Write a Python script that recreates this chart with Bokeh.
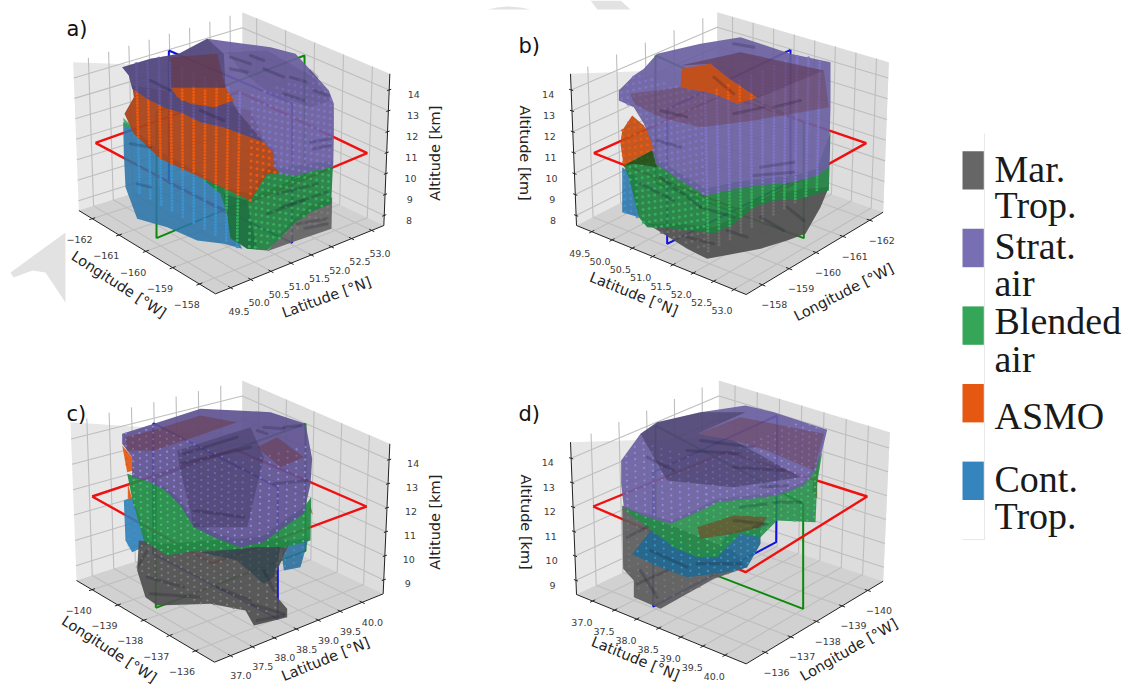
"""
Four 3D views of air mass regions along two flight tracks, drawn on one Bokeh figure.

The 3D boxes are projected by hand: every panel has its 8 box corners in "view units"
(3 units = 1 page pixel from the panel origin) and the outlines are read off in those units.
"""
import numpy as np
from bokeh.core.properties import value
from bokeh.embed import file_html
from bokeh.models import Range1d
from bokeh.plotting import figure
from bokeh.resources import INLINE

GRAY = "#636363"
STRAT = "#6a5f9f"
GREEN = "#31a354"
ORANGE = "#e6550d"
BLUE = "#3182bd"

LEGEND_LABELS = [["Mar.", "Trop."], ["Strat.", "air"], ["Blended", "air"], ["ASMO"], ["Cont.", "Trop."]]
LEGEND_COLORS = [GRAY, "#756bb1", GREEN, ORANGE, BLUE]

# ticks of the two regions
LON_TICKS_AB = [-162, -161, -160, -159, -158]
LAT_TICKS_AB = [49.5, 50.0, 50.5, 51.0, 51.5, 52.0, 52.5, 53.0]
ALT_TICKS_AB = [8, 9, 10, 11, 12, 13, 14]
LON_TICKS_CD = [-140, -139, -138, -137, -136]
LAT_TICKS_CD = [37.0, 37.5, 38.0, 38.5, 39.0, 39.5, 40.0]
ALT_TICKS_CD = [9, 10, 11, 12, 13, 14]

# box limits (lon, lat, alt)
LIMS_AB = ((-162.5, -157.4), (49.125, 53.3), (7.52, 14.77))
LIMS_CD = ((-140.6, -135.26), (36.635, 40.48), (8.42, 14.66))

# model grid the points sit on
LON_GRID_AB = [-162.4, -162.0, -161.6, -161.2, -160.8, -160.4, -160.0, -159.6, -159.2, -158.8, -158.4, -158.0, -157.6]
LAT_GRID_AB = [49.2, 49.35, 49.5, 49.65, 49.8, 49.95, 50.1, 50.25, 50.4, 50.55, 50.7, 50.85, 51.0, 51.15, 51.3,
               51.45, 51.6, 51.75, 51.9, 52.05, 52.2, 52.35, 52.5, 52.65, 52.8, 52.95, 53.1, 53.25]
ALT_GRID_AB = [7.6, 7.75, 7.9, 8.05, 8.2, 8.35, 8.5, 8.65, 8.8, 8.95, 9.1, 9.25, 9.4, 9.55, 9.7, 9.85, 10.0, 10.15,
               10.3, 10.45, 10.6, 10.75, 10.9, 11.05, 11.2, 11.35, 11.5, 11.65, 11.8, 11.95, 12.1, 12.25, 12.4,
               12.55, 12.7, 12.85, 13.0, 13.15, 13.3, 13.45, 13.6, 13.75, 13.9, 14.05, 14.2, 14.35, 14.5, 14.65]
LON_GRID_CD = [-140.5, -140.25, -140.0, -139.75, -139.5, -139.25, -139.0, -138.75, -138.5, -138.25, -138.0, -137.75,
               -137.5, -137.25, -137.0, -136.75, -136.5, -136.25, -136.0, -135.75, -135.5]
LAT_GRID_CD = [36.7, 36.9, 37.1, 37.3, 37.5, 37.7, 37.9, 38.1, 38.3, 38.5, 38.7, 38.9, 39.1, 39.3, 39.5, 39.7,
               39.9, 40.1, 40.3]
ALT_GRID_CD = [8.5, 8.75, 9.0, 9.25, 9.5, 9.75, 10.0, 10.25, 10.5, 10.75, 11.0, 11.25, 11.5, 11.75, 12.0, 12.25,
               12.5, 12.75, 13.0, 13.25, 13.5, 13.75, 14.0, 14.25, 14.5]

# panel a outlines
A_GRAY = [(845, 560), (843, 655), (740, 690), (650, 722), (730, 625), (780, 585)]
A_BLUE = [(218, 335), (240, 345), (290, 390), (340, 430), (450, 490), (520, 535), (530, 620), (575, 715), (520, 700),
          (440, 690), (350, 650), (260, 625), (225, 530), (220, 430)]
A_GREEN_SMALL = [(218, 322), (250, 352), (222, 350)]
A_GREEN = [(455, 505), (520, 530), (600, 550), (650, 470), (700, 470), (848, 450), (842, 580), (780, 605), (730, 640),
           (650, 720), (590, 715), (540, 680), (530, 610), (510, 550)]
A_GREEN_DARK = [(520, 550), (590, 570), (600, 620), (620, 715), (590, 715), (540, 685), (530, 610)]
A_ORANGE = [(245, 225), (250, 260), (222, 310), (250, 370), (330, 445), (470, 510), (600, 570), (650, 490), (685, 490),
            (672, 420), (640, 385), (600, 300), (400, 250)]
A_ORANGE_HOLE = [(362, 232), (525, 232), (550, 270), (490, 290), (420, 280), (380, 260)]
A_STRAT = [(215, 170), (300, 145), (385, 130), (470, 85), (580, 100), (660, 110), (735, 130), (790, 190), (835, 240),
           (850, 280), (850, 380), (848, 470), (800, 478), (740, 495), (690, 490), (672, 470), (670, 430), (640, 395),
           (600, 380), (520, 350), (450, 335), (400, 310), (340, 290), (290, 265), (245, 235), (235, 195)]
A_STRAT_TOP = [(215, 170), (300, 145), (385, 130), (470, 85), (520, 130), (525, 232), (560, 300), (640, 395), (600, 380),
               (520, 350), (450, 335), (400, 310), (340, 290), (290, 265), (245, 235), (235, 195)]
A_BROWN = [(360, 140), (500, 130), (525, 232), (362, 232)]
A_SHADE = [(530, 125), (650, 120), (790, 200), (840, 270), (780, 290), (660, 250), (570, 180)]
A_STREAKS = [(540, 140, 600, 160), (600, 135, 640, 150), (540, 175, 590, 185), (640, 175, 700, 200), (720, 200, 770, 215),
             (700, 250, 760, 270), (790, 240, 835, 255), (780, 180, 800, 200), (780, 395, 840, 385), (790, 415, 840, 405),
             (680, 550, 800, 520), (650, 610, 760, 570), (690, 590, 830, 545), (240, 400, 300, 410), (260, 520, 300, 530),
             (300, 210, 360, 240), (450, 300, 520, 330), (740, 640, 830, 625), (760, 655, 830, 640)]

# panel b outlines
B_BLUE = [(365, 470), (410, 500), (415, 620), (365, 605)]
B_ORANGE = [(395, 315), (430, 345), (455, 390), (470, 425), (440, 450), (370, 470), (360, 400), (365, 360)]
B_GRAY = [(440, 640), (530, 640), (640, 650), (700, 620), (760, 570), (830, 550), (905, 535), (985, 530), (960, 590),
          (915, 670), (860, 690), (780, 715), (620, 745), (560, 715)]
B_GREEN = [(370, 465), (455, 420), (465, 440), (540, 490), (615, 535), (700, 515), (880, 495), (950, 475), (990, 365),
           (985, 540), (900, 565), (820, 570), (760, 590), (700, 640), (640, 668), (530, 655), (440, 650), (415, 620),
           (385, 500)]
B_GREEN_DARK = [(370, 465), (455, 420), (470, 470), (400, 460)]
B_STRAT = [(355, 240), (400, 195), (430, 175), (470, 130), (600, 100), (720, 80), (780, 100), (870, 130), (990, 155),
           (990, 290), (985, 470), (950, 495), (880, 515), (780, 525), (700, 535), (615, 555), (540, 510), (465, 460),
           (455, 400), (430, 340), (400, 290), (355, 270)]
B_BROWN = [(390, 250), (540, 230), (640, 250), (710, 280), (840, 235), (970, 180), (985, 290), (760, 330), (600, 350),
           (480, 320), (400, 280)]
B_ORANGE_HOLE = [(545, 175), (630, 160), (680, 200), (770, 262), (710, 280), (640, 250), (540, 230)]
B_BROWN_TOP = [(540, 165), (720, 125), (970, 180), (840, 235), (770, 262), (680, 200), (630, 160)]
B_STREAKS = [(700, 100, 760, 110), (480, 300, 560, 320), (700, 310, 790, 290), (820, 290, 900, 270), (470, 390, 540, 410),
             (760, 495, 880, 485), (780, 470, 880, 455), (420, 520, 520, 570), (480, 500, 600, 590), (600, 590, 700, 620),
             (560, 680, 640, 700), (680, 660, 740, 680), (780, 620, 850, 660), (860, 590, 910, 630), (640, 200, 700, 250)]

# panel c outlines
C_GRAY = [(265, 510), (350, 520), (620, 500), (720, 510), (680, 600), (680, 680), (710, 715), (710, 740),
          (610, 765), (585, 720), (480, 700), (320, 705), (285, 680), (260, 600)]
C_BLUE_LEFT = [(220, 390), (245, 380), (300, 520), (245, 545), (225, 510)]
C_BLUE_RIGHT = [(690, 520), (775, 500), (750, 590), (700, 600)]
C_ORANGE_1 = [(215, 225), (245, 260), (250, 300), (230, 305)]
C_ORANGE_2 = [(232, 340), (245, 385), (232, 385)]
C_ORANGE_3 = [(780, 405), (787, 432), (775, 420)]
C_GREEN = [(230, 310), (290, 330), (345, 350), (390, 390), (430, 450), (500, 490), (570, 510), (640, 495), (700, 450),
           (760, 410), (782, 380), (780, 510), (700, 530), (620, 530), (540, 540), (440, 540), (350, 555), (280, 510),
           (245, 385)]
C_SHADE = [(450, 545), (620, 530), (690, 530), (670, 620), (640, 640), (560, 570)]
C_STRAT = [(215, 190), (310, 160), (450, 115), (560, 120), (660, 125), (765, 160), (785, 265), (780, 340), (760, 430),
           (700, 470), (640, 515), (570, 530), (500, 505), (430, 470), (390, 405), (345, 360), (290, 330), (245, 320),
           (245, 260), (215, 220)]
C_BROWN_1 = [(225, 200), (305, 180), (450, 135), (560, 155), (430, 200), (310, 240), (230, 240)]
C_BROWN_2 = [(620, 230), (680, 200), (760, 260), (690, 290)]
C_STRAT_DARK = [(380, 240), (600, 170), (640, 260), (590, 470), (430, 470), (390, 300)]
C_STREAKS = [(400, 250, 560, 200), (390, 280, 600, 230), (640, 170, 700, 175), (700, 170, 750, 165), (620, 180, 650, 190),
             (670, 340, 770, 330), (290, 620, 400, 650), (300, 670, 450, 680), (500, 650, 600, 690), (600, 700, 700, 730),
             (620, 750, 700, 735), (640, 600, 670, 660), (430, 420, 580, 440), (290, 540, 260, 590)]

# panel d outlines
D_GRAY = [(365, 405), (450, 440), (700, 540), (740, 590), (640, 625), (480, 715), (400, 680), (400, 630), (368, 595)]
D_ORANGE = [(970, 195), (960, 240), (950, 330), (950, 385), (935, 360), (940, 320)]
D_BLUE = [(395, 552), (450, 480), (520, 510), (590, 540), (650, 540), (680, 490), (740, 470), (780, 470), (780, 520),
          (740, 590), (680, 605), (560, 620), (480, 590)]
D_GREEN = [(365, 415), (440, 430), (510, 450), (580, 420), (650, 385), (750, 375), (830, 365), (910, 335), (965, 245),
           (950, 340), (945, 455), (830, 450), (780, 500), (720, 490), (650, 560), (590, 560), (520, 530), (440, 470)]
D_BROWN_MID = [(590, 470), (700, 435), (800, 440), (780, 470), (700, 490), (600, 505)]
D_STRAT = [(362, 270), (420, 190), (470, 155), (600, 125), (735, 105), (820, 125), (980, 178), (965, 240), (945, 300),
           (910, 345), (830, 375), (750, 385), (650, 395), (580, 430), (510, 460), (440, 440), (370, 410), (362, 340)]
D_BROWN = [(590, 190), (720, 140), (970, 190), (940, 300), (800, 240), (700, 210)]
D_STRAT_DARK = [(420, 190), (470, 155), (600, 125), (735, 125), (590, 190), (700, 210), (900, 320), (700, 350), (500, 330)]
D_STREAKS = [(560, 240, 720, 250), (600, 210, 760, 230), (700, 290, 850, 300), (780, 350, 860, 345), (440, 260, 520, 300),
             (820, 395, 900, 395), (720, 410, 800, 400), (380, 500, 440, 470), (410, 640, 500, 600), (420, 600, 470, 680),
             (590, 580, 720, 580), (450, 540, 560, 590), (700, 450, 790, 460), (760, 470, 800, 460)]

# flight curtains and the level plane, 4 corners each
A_RED = [(135, 397), (566, 244), (950, 428), (525, 605)]
A_GREEN_RECT = [(318, 683), (318, 304), (762, 135), (762, 497)]
A_BLUE_RECT = [(355, 120), (725, 279), (725, 697), (355, 517)]
B_RED = [(280, 428), (670, 252), (1097, 398), (728, 603)]
B_GREEN_RECT = [(465, 135), (910, 335), (910, 683), (465, 517)]
B_BLUE_RECT = [(870, 118), (500, 297), (500, 700), (870, 515)]
C_RED = [(125, 378), (552, 236), (948, 408), (485, 579)]
C_GREEN_RECT = [(316, 712), (316, 322), (765, 160), (765, 541)]
C_BLUE_RECT = [(308, 158), (682, 351), (682, 745), (308, 550)]
D_RED = [(278, 408), (679, 244), (1100, 378), (735, 605)]
D_GREEN_RECT = [(465, 165), (908, 400), (908, 715), (465, 545)]
D_BLUE_RECT = [(830, 135), (458, 305), (458, 708), (827, 515)]

WATERMARK = [[(10, 272), (65, 232), (65, 302), (45, 272), (32, 270), (13, 277)],
             [(487, 9), (497, 7), (507, 6), (520, 7), (530, 9)],
             [(590, 0), (620, 0), (630, 9), (597, 9)]]

DARK = "#2c2440"
BROWN = "#6b2f30"
STRAT_DOT = "#8074c8"

PANELS = [
    dict(name="a)", name_xy=(66, 28), origin=(50, 10), swapped=False, lims=LIMS_AB, stagger=True,
         floor=[(85, 600), (495, 850), (1000, 645), (578, 445)], top=[(68, 155), (510, 345), (1018, 190), (575, 5)],
         ticks=(LON_TICKS_AB, LAT_TICKS_AB, ALT_TICKS_AB), grid=(LON_GRID_AB, LAT_GRID_AB, ALT_GRID_AB),
         face=(-158.5, 50.6), offs=((-38, 62), (25, 70), (74, 14)), dot=3.0, streaks=A_STREAKS,
         titles=[("Longitude [°W]", 205, 822, -33), ("Latitude [°N]", 828, 860, 20), ("Altitude [km]", 1153, 428, 90)],
         rects=(A_GREEN_RECT, A_BLUE_RECT, A_RED),
         layers=[(A_GRAY, GRAY, .92, "#7a7a7a"), (A_BLUE, "#2a74aa", .88, "#3a94d0"), (A_GREEN_SMALL, GREEN, .8, None),
                 (A_GREEN, "#1f7f40", .92, "#35b05c"), (A_GREEN_DARK, "#1c6b40", .7, "#35b05c"),
                 (A_ORANGE, "#a9451a", .95, "#f0590e"), (A_STRAT, STRAT, .93, STRAT_DOT),
                 (A_STRAT_TOP, "#352a50", .4, None), (A_BROWN, BROWN, .5, None),
                 (A_ORANGE_HOLE, "#c24c10", .95, "#f0590e"), (A_SHADE, DARK, .12, None)]),
    dict(name="b)", name_xy=(518, 45), origin=(500, 10), swapped=True, lims=LIMS_AB, stagger=True,
         floor=[(228, 645), (737, 852), (1148, 605), (650, 430)], top=[(210, 190), (725, 340), (1165, 155), (650, 5)],
         ticks=(LAT_TICKS_AB, LON_TICKS_AB, ALT_TICKS_AB), grid=(LON_GRID_AB, LAT_GRID_AB, ALT_GRID_AB),
         face=(-158.4, 51.7), offs=((-36, 64), (36, 60), (-69, 14)), dot=3.0, streaks=B_STREAKS,
         titles=[("Latitude [°N]", 400, 850, -22), ("Longitude [°W]", 1030, 845, 27), ("Altitude [km]", 73, 428, -90)],
         rects=(B_GREEN_RECT, B_BLUE_RECT, B_RED),
         layers=[(B_BLUE, "#2a74aa", .88, "#3a94d0"), (B_ORANGE, "#c04c12", .92, "#f0590e"),
                 (B_GRAY, "#505050", .93, "#6e6e6e"), (B_GREEN, "#1f7f40", .92, "#35b05c"),
                 (B_GREEN_DARK, "#2b4a18", .8, None), (B_STRAT, STRAT, .92, STRAT_DOT), (B_BROWN, BROWN, .32, None),
                 (B_BROWN_TOP, "#5a2c40", .5, None), (B_ORANGE_HOLE, "#c94e10", .92, "#f0590e")]),
    dict(name="c)", name_xy=(66, 413), origin=(50, 370), swapped=False, lims=LIMS_CD, stagger=False,
         floor=[(78, 630), (492, 875), (998, 670), (575, 470)], top=[(60, 155), (503, 345), (1018, 220), (575, 30)],
         ticks=(LON_TICKS_CD, LAT_TICKS_CD, ALT_TICKS_CD), grid=(LON_GRID_CD, LAT_GRID_CD, ALT_GRID_CD),
         face=(-136.4, 37.8), offs=((-40, 62), (31, 60), (72, 12)), dot=2.2, streaks=C_STREAKS,
         titles=[("Longitude [°W]", 176, 836, -33), ("Latitude [°N]", 825, 866, 22), ("Altitude [km]", 1153, 455, 90)],
         rects=(C_GREEN_RECT, C_BLUE_RECT, C_RED),
         layers=[(C_BLUE_LEFT, "#2f7fb8", .9, "#3a94d0"), (C_BLUE_RIGHT, "#2a6d9c", .88, "#3a94d0"),
                 (C_GRAY, "#505050", .93, "#808080"), (C_ORANGE_1, ORANGE, .9, ORANGE), (C_ORANGE_2, ORANGE, .9, ORANGE),
                 (C_ORANGE_3, ORANGE, .9, ORANGE), (C_GREEN, "#228a47", .92, "#45c56c"),
                 (C_SHADE, "#24404a", .6, None), (C_STRAT, "#5e5391", .92, "#9488e6"), (C_STRAT_DARK, DARK, .3, None),
                 (C_BROWN_1, BROWN, .4, None), (C_BROWN_2, BROWN, .4, None)]),
    dict(name="d)", name_xy=(518, 413), origin=(500, 370), swapped=True, lims=LIMS_CD, stagger=False,
         floor=[(228, 672), (737, 880), (1148, 632), (655, 470)], top=[(210, 215), (723, 370), (1168, 185), (655, 30)],
         ticks=(LAT_TICKS_CD, LON_TICKS_CD, ALT_TICKS_CD), grid=(LON_GRID_CD, LAT_GRID_CD, ALT_GRID_CD),
         face=(-136.5, 38.9), offs=((-32, 64), (34, 60), (-70, 14)), dot=2.2, streaks=D_STREAKS,
         titles=[("Latitude [°N]", 405, 864, -22), ("Longitude [°W]", 1045, 838, 30), ("Altitude [km]", 75, 455, -90)],
         rects=(D_GREEN_RECT, D_BLUE_RECT, D_RED),
         layers=[(D_GRAY, "#5c5c5c", .93, "#777777"), (D_ORANGE, "#b0480f", .9, ORANGE), (D_BLUE, "#24688f", .93, "#3a94d0"),
                 (D_GREEN, "#248c49", .88, "#3fc068"), (D_BROWN_MID, "#7a4020", .6, None),
                 (D_STRAT, STRAT, .92, "#9488e6"), (D_STRAT_DARK, DARK, .38, None), (D_BROWN, BROWN, .35, None)]),
]

WIDTH = 1127
HEIGHT = 686


def project(panel, u, v, w):
    """Trilinear map from box fractions (u, v, w) to view units."""
    u, v, w = np.asarray(u, float), np.asarray(v, float), np.asarray(w, float)
    pts = []
    for k in (0, 1):
        lo = np.array(panel["floor"])[:, k]
        hi = np.array(panel["top"])[:, k]
        base = (1 - v) * ((1 - u) * lo[0] + u * lo[1]) + v * ((1 - u) * lo[3] + u * lo[2])
        roof = (1 - v) * ((1 - u) * hi[0] + u * hi[1]) + v * ((1 - u) * hi[3] + u * hi[2])
        pts.append((1 - w) * base + w * roof)
    return pts[0], pts[1]


def to_page(panel, xs, ys):
    ox, oy = panel["origin"]
    return ox + np.asarray(xs, float) / 3, -(oy + np.asarray(ys, float) / 3)


def fractions(panel, lon, lat, alt):
    (lon0, lon1), (lat0, lat1), (alt0, alt1) = panel["lims"]
    w = (np.asarray(alt, float) - alt0) / (alt1 - alt0)
    if panel["swapped"]:
        return (np.asarray(lat, float) - lat0) / (lat1 - lat0), (lon1 - np.asarray(lon, float)) / (lon1 - lon0), w
    return (np.asarray(lon, float) - lon0) / (lon1 - lon0), (np.asarray(lat, float) - lat0) / (lat1 - lat0), w


def inside(poly, x, y):
    """Ray casting test of view points against an outline."""
    px, py = np.array(poly, float).T
    hit = np.zeros(x.shape, bool)
    for i in range(len(px)):
        j = i - 1
        cross = (py[i] > y) != (py[j] > y)
        at = (px[j] - px[i]) * (y - py[i]) / (py[j] - py[i] + 1e-9) + px[i]
        hit ^= cross & (x < at)
    return hit


def face_points(panel):
    """View positions of the grid points on the two faces turned to the viewer."""
    lons, lats, alts = panel["grid"]
    lon_f, lat_f = panel["face"]
    uf, vf, _ = fractions(panel, lon_f, lat_f, alts[0])
    all_x, all_y = [], []
    columns = [(lon, lat_f, False) for lon in lons] + [(lon_f, lat, panel["stagger"]) for lat in lats]
    for i, (lon, lat, staggered) in enumerate(columns):
        u, v, w = fractions(panel, np.full(len(alts), lon), np.full(len(alts), lat), alts)
        keep = (u <= uf + .001) & (v >= vf - .001)
        if staggered:
            # the dense faces show as a diamond lattice
            keep &= (np.arange(len(alts)) + i) % 2 == 0
        x, y = project(panel, u, v, w)
        all_x.append(x[keep])
        all_y.append(y[keep])
    return np.concatenate(all_x), np.concatenate(all_y)


def draw_box(p, panel):
    ticks = panel["ticks"]
    rows = [([0, 0, 1, 1], [0, 0, 1, 1], [0, 1, 1, 0], "#e7e7e7"),
            ([0, 1, 1, 0], [1, 1, 1, 1], [0, 0, 1, 1], "#dddddd"),
            ([0, 1, 1, 0], [0, 0, 1, 1], [0, 0, 0, 0], "#d1d1d1")]
    for u, v, w, color in rows:
        x, y = to_page(panel, *project(panel, u, v, w))
        p.patch(x, y, fill_color=color, line_color=None)

    # tick values as box fractions, first axis runs along u, second along v
    (lon0, _), (lat0, _), (alt0, _) = panel["lims"]
    first = np.array(ticks[0], float)
    second = np.array(ticks[1], float)
    if panel["swapped"]:
        u_vals = fractions(panel, lon0, first, alt0)[0]
        v_vals = fractions(panel, second, lat0, alt0)[1]
    else:
        u_vals = fractions(panel, first, lat0, alt0)[0]
        v_vals = fractions(panel, lon0, second, alt0)[1]
    w_vals = fractions(panel, lon0, lat0, np.array(ticks[2], float))[2]

    seg_x, seg_y = [], []

    def add(u, v, w):
        x, y = to_page(panel, *project(panel, u, v, w))
        seg_x.append(list(x))
        seg_y.append(list(y))

    for u in u_vals:
        add([u, u, u], [0, 1, 1], [0, 0, 1])
    for v in v_vals:
        add([1, 0, 0], [v, v, v], [0, 0, 1])
    for w in w_vals:
        add([0, 0, 1], [0, 1, 1], [w, w, w])
    p.multi_line(seg_x, seg_y, line_color="#bebebe", line_width=1.1)

    seg_x, seg_y = [], []
    add([0, 1, 1], [0, 0, 1], [0, 0, 0])
    if panel["swapped"]:
        add([0, 0], [0, 0], [0, 1])
    else:
        add([1, 1], [1, 1], [0, 1])
    for u in u_vals:
        add([u, u], [-.018, .018], [0, 0])
    for v in v_vals:
        add([.982, 1.018], [v, v], [0, 0])
    for w in w_vals:
        if panel["swapped"]:
            add([-.012, .012], [0, 0], [w, w])
        else:
            add([1, 1], [.988, 1.012], [w, w])
    p.multi_line(seg_x, seg_y, line_color="#222222", line_width=1)

    # tick labels
    for vals, tick_list, off, pos in ((u_vals, ticks[0], panel["offs"][0], "u"),
                                      (v_vals, ticks[1], panel["offs"][1], "v"),
                                      (w_vals, ticks[2], panel["offs"][2], "w")):
        if pos == "u":
            x, y = project(panel, vals, 0 * vals, 0 * vals)
        elif pos == "v":
            x, y = project(panel, 0 * vals + 1, vals, 0 * vals)
        elif panel["swapped"]:
            x, y = project(panel, 0 * vals, 0 * vals, vals)
        else:
            x, y = project(panel, 0 * vals + 1, 0 * vals + 1, vals)
        lx, ly = to_page(panel, x + off[0], y + off[1])
        labels = [f"\u2212{abs(t)}" if t < 0 else str(t) for t in tick_list]
        p.text(lx, ly, text=labels, text_font=value("DejaVu Sans"), text_font_size="9.5px", text_color="#3a3a3a",
               text_align="center", text_baseline="middle")

    for label, vx, vy, angle in panel["titles"]:
        lx, ly = to_page(panel, [vx], [vy])
        p.text(lx, ly, text=[label], angle=np.radians(angle), text_font=value("DejaVu Sans"), text_font_size="14.5px",
               text_color="#222222", text_align="center", text_baseline="middle")


def draw_panel(p, panel):
    draw_box(p, panel)
    green_rect, blue_rect, red_rect = panel["rects"]
    for rect, color, width in ((green_rect, "#0a8a0a", 2), (blue_rect, "#1010e0", 2), (red_rect, "#f01010", 2.4)):
        xs, ys = np.array(rect + rect[:1], float).T
        x, y = to_page(panel, xs, ys)
        p.line(x, y, line_color=color, line_width=width)

    fx, fy = face_points(panel)
    for outline, fill, alpha, dot_color in panel["layers"]:
        xs, ys = np.array(outline, float).T
        x, y = to_page(panel, xs, ys)
        p.patch(x, y, fill_color=fill, fill_alpha=alpha, line_color=None)
        if dot_color:
            keep = inside(outline, fx, fy)
            dx, dy = to_page(panel, fx[keep], fy[keep])
            p.scatter(dx, dy, size=panel["dot"], marker="circle", fill_color=dot_color, fill_alpha=.95, line_color=None)

    sx, sy = [], []
    for x0, y0, x1, y1 in panel["streaks"]:
        x, y = to_page(panel, [x0, x1], [y0, y1])
        sx.append(list(x))
        sy.append(list(y))
    p.multi_line(sx, sy, line_color="#15102a", line_alpha=.2, line_width=3, line_cap="round")

    lx, ly = panel["name_xy"]
    p.text([lx], [-ly], text=[panel["name"]], text_font=value("DejaVu Sans"), text_font_size="21px",
           text_color="#111111", text_baseline="middle")


def draw_legend(p):
    top = 150.7
    step = 77.6
    for i, color in enumerate(LEGEND_COLORS):
        y0 = top + i * step
        p.quad(left=[962], right=[983.3], top=[-y0], bottom=[-(y0 + 38.4)], fill_color=color, line_color=None, fill_alpha=.98)
    baselines = [[168, 204], [245, 282], [320, 358], [415], [478, 515]]
    for lines, ys in zip(LEGEND_LABELS, baselines):
        for line, y in zip(lines, ys):
            p.text([994], [-y], text=[line], text_font=value("Liberation Serif"), text_font_size="38px",
                   text_color="#1a1a1a", text_baseline="alphabetic")
    p.line([984, 984, 962], [-133, -539, -539], line_color="#e8e8e8", line_width=1)


p = figure(width=WIDTH, height=HEIGHT, toolbar_location=None, output_backend="svg",
           x_range=Range1d(0, WIDTH), y_range=Range1d(-HEIGHT, 0), min_border=0)
p.axis.visible = False
p.grid.visible = False
p.outline_line_color = None

for shape in WATERMARK:
    xs, ys = np.array(shape, float).T
    p.patch(xs, -ys, fill_color="#e2e2e2", line_color=None)
for panel in PANELS:
    draw_panel(p, panel)
draw_legend(p)

open("out.html", "w").write(file_html(p, INLINE))
